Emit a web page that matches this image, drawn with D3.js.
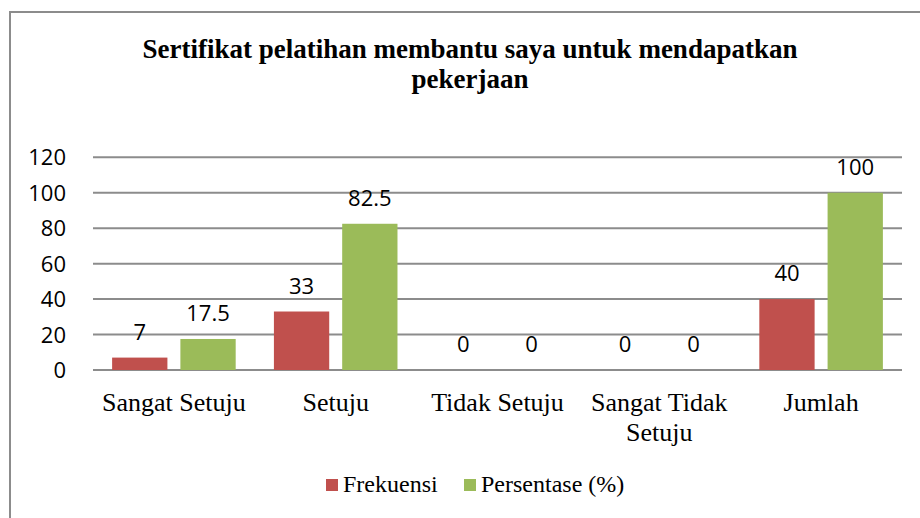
<!DOCTYPE html>
<html>
<head>
<meta charset="utf-8">
<script src="https://cdn.jsdelivr.net/npm/d3@7"></script>
<style>
  body { margin: 0; background: #fff; }
  svg { display: block; }
</style>
</head>
<body>
<svg id="chart" width="920" height="518"></svg>
<script>
// data
var categories = [["Sangat Setuju"], ["Setuju"], ["Tidak Setuju"], ["Sangat Tidak", "Setuju"], ["Jumlah"]];
var series_names = ["Frekuensi", "Persentase (%)"];
var frekuensi = [7, 33, 0, 0, 40];
var persentase = [17.5, 82.5, 0, 0, 100];
var y_ticks = [0, 20, 40, 60, 80, 100, 120];
var title_lines = ["Sertifikat pelatihan membantu saya untuk mendapatkan", "pekerjaan"];
var colors = ["#C0504D", "#9BBB59"];

var svg = d3.select("#chart");

// frame
svg.append("path")
    .attr("d", "M10,520 L10,12 L922,12")
    .attr("fill", "none")
    .attr("stroke", "#8c8c8c")
    .attr("stroke-width", 2);

// title
var title = svg.append("text")
    .attr("x", 470)
    .attr("y", 58)
    .attr("text-anchor", "middle")
    .style("font-family", "'Liberation Serif', 'Times New Roman', serif")
    .style("font-weight", "bold")
    .style("font-size", "27px")
    .attr("fill", "#000");
title.selectAll("tspan")
    .data(title_lines)
    .enter().append("tspan")
    .attr("x", 470)
    .attr("dy", function(d, i){ return i == 0 ? 0 : 30; })
    .text(function(d){ return d; });

var left = 93, right = 902;
var y = d3.scaleLinear().domain([0, 120]).range([370, 157.3]);

var x0 = d3.scaleBand()
    .domain(d3.range(categories.length))
    .range([left, right])
    .padding(0);

var x1 = d3.scaleBand()
    .domain(d3.range(series_names.length))
    .range([0, x0.bandwidth()])
    .paddingInner(0.19)
    .paddingOuter(0.28);

// gridlines
svg.append("g")
    .selectAll("line")
    .data(y_ticks)
    .enter().append("line")
    .attr("x1", left)
    .attr("x2", right)
    .attr("y1", function(d){ return y(d); })
    .attr("y2", function(d){ return y(d); })
    .attr("stroke", "#8c8c8c")
    .attr("stroke-width", 2);

// y axis labels
svg.append("g")
    .selectAll("text")
    .data(y_ticks)
    .enter().append("text")
    .attr("x", 66)
    .attr("y", function(d){ return y(d); })
    .attr("dy", "0.37em")
    .attr("text-anchor", "end")
    .style("font-family", "'Open Sans', sans-serif")
    .style("font-size", "22px")
    .attr("fill", "#000")
    .text(function(d){ return d; });

var values = [frekuensi, persentase];

// bars + labels
values.forEach(function(vals, s){
    var g = svg.append("g");
    g.selectAll("rect")
        .data(vals)
        .enter().append("rect")
        .attr("x", function(d, i){ return x0(i) + x1(s); })
        .attr("width", x1.bandwidth())
        .attr("y", function(d){ return y(d); })
        .attr("height", function(d){ return y(0) - y(d); })
        .attr("fill", colors[s]);

    g.selectAll("text")
        .data(vals)
        .enter().append("text")
        .attr("x", function(d, i){ return x0(i) + x1(s) + x1.bandwidth() / 2; })
        .attr("y", function(d){ return y(d) - 18; })
        .attr("text-anchor", "middle")
        .style("font-family", "'Open Sans', sans-serif")
        .style("font-size", "22px")
        .attr("fill", "#000")
        .text(function(d){ return d; });
});

// category labels
var cat = svg.append("g")
    .selectAll("text")
    .data(categories)
    .enter().append("text")
    .attr("x", function(d, i){ return x0(i) + x0.bandwidth() / 2; })
    .attr("y", 411)
    .attr("text-anchor", "middle")
    .style("font-family", "'Liberation Serif', 'Times New Roman', serif")
    .style("font-size", "26px")
    .attr("fill", "#000");
cat.each(function(d, i){
    var t = d3.select(this);
    d.forEach(function(line, j){
        t.append("tspan")
            .attr("x", x0(i) + x0.bandwidth() / 2)
            .attr("dy", j == 0 ? 0 : 30)
            .text(line);
    });
});

// legend
var legend_x = [326, 464];
var legend = svg.append("g")
    .selectAll("g")
    .data(series_names)
    .enter().append("g");
legend.append("rect")
    .attr("x", function(d, i){ return legend_x[i]; })
    .attr("y", 479)
    .attr("width", 12)
    .attr("height", 12)
    .attr("fill", function(d, i){ return colors[i]; });
legend.append("text")
    .attr("x", function(d, i){ return legend_x[i] + 17; })
    .attr("y", 492)
    .style("font-family", "'Liberation Serif', 'Times New Roman', serif")
    .style("font-size", "24px")
    .attr("fill", "#000")
    .text(function(d){ return d; });
</script>
</body>
</html>
